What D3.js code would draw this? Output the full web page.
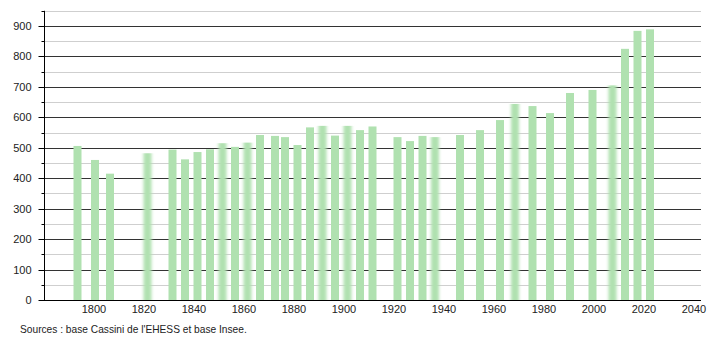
<!DOCTYPE html>
<html>
<head>
<meta charset="utf-8">
<script src="https://cdn.jsdelivr.net/npm/d3@7"></script>
<style>
  body { margin: 0; background: #fff; }
  svg { display: block; font-family: "Liberation Sans", Arial, sans-serif; }
</style>
</head>
<body>
<div id="chart"></div>
<script>
const years = [1793, 1800, 1806, 1821, 1831, 1836, 1841, 1846, 1851, 1856, 1861, 1866,
  1872, 1876, 1881, 1886, 1891, 1896, 1901, 1906, 1911, 1921, 1926, 1931, 1936,
  1946, 1954, 1962, 1968, 1975, 1982, 1990, 1999, 2007, 2012, 2017, 2022];
const population = [506, 460, 415, 482, 494, 462, 486, 495, 515, 503, 517, 542,
  539, 535, 509, 567, 572, 540, 572, 558, 570, 535, 522, 539, 535,
  542, 558, 591, 644, 637, 614, 680, 690, 705, 825, 884, 889];
const xTicks = [1800, 1820, 1840, 1860, 1880, 1900, 1920, 1940, 1960, 1980, 2000, 2020, 2040];
const yTicks = [0, 100, 200, 300, 400, 500, 600, 700, 800, 900];
const yMinor = [50, 150, 250, 350, 450, 550, 650, 750, 850, 950];
// bars that look smeared in the original picture
const fuzzyYears = [1821, 1851, 1861, 1891, 1901, 1936, 1968, 2007];
const source = "Sources : base Cassini de l'EHESS et base Insee.";

function drawChart(selector) {
  const W = 710, H = 340;
  const left = 44, right = 701, bottom = 300;

  const svg = d3.select(selector).append("svg")
    .attr("width", W).attr("height", H);

  const defs = svg.append("defs");
  defs.append("filter").attr("id", "smear")
    .attr("x", "-50%").attr("width", "200%")
    .append("feGaussianBlur").attr("stdDeviation", "1.6 0");

  const x = d3.scaleLinear().domain([1780, 2040]).range([left, 694]);
  const y = d3.scaleLinear().domain([0, 950]).range([bottom, bottom - 950 * 0.30444]);

  // grid
  svg.append("g").selectAll("line").data(yMinor).enter().append("line")
    .attr("x1", left).attr("x2", right)
    .attr("y1", d => Math.round(y(d)) + 0.5).attr("y2", d => Math.round(y(d)) + 0.5)
    .attr("stroke", "#cfcfcf");
  svg.append("g").selectAll("line").data(yTicks.slice(1)).enter().append("line")
    .attr("x1", left).attr("x2", right)
    .attr("y1", d => Math.round(y(d)) + 0.5).attr("y2", d => Math.round(y(d)) + 0.5)
    .attr("stroke", "#333");

  // bars
  svg.append("g").selectAll("rect").data(years).enter().append("rect")
    .attr("x", d => x(d) - 3)
    .attr("width", 8)
    .attr("y", (d, i) => y(population[i]))
    .attr("height", (d, i) => bottom - y(population[i]))
    .attr("fill", "#b0e1b0")
    .attr("filter", d => fuzzyYears.includes(d) ? "url(#smear)" : null);

  // y axis
  const yAxis = svg.append("g").attr("transform", "translate(" + (left + 0.5) + ",0)");
  yAxis.append("line").attr("y1", y(950)).attr("y2", bottom).attr("stroke", "#000");
  yAxis.selectAll(".maj").data(yTicks).enter().append("line")
    .attr("x1", -6).attr("x2", 0)
    .attr("y1", d => Math.round(y(d)) + 0.5).attr("y2", d => Math.round(y(d)) + 0.5)
    .attr("stroke", "#000");
  yAxis.selectAll(".min").data(yMinor).enter().append("line")
    .attr("x1", -3).attr("x2", 0)
    .attr("y1", d => Math.round(y(d)) + 0.5).attr("y2", d => Math.round(y(d)) + 0.5)
    .attr("stroke", "#000");
  yAxis.selectAll("text").data(yTicks).enter().append("text")
    .attr("x", -13).attr("y", d => y(d) + 4)
    .attr("text-anchor", "end")
    .attr("font-size", 11).attr("fill", "#222")
    .text(d => d);

  // x axis
  svg.append("line")
    .attr("x1", left).attr("x2", right)
    .attr("y1", bottom + 0.5).attr("y2", bottom + 0.5)
    .attr("stroke", "#000");
  svg.append("g").selectAll("text").data(xTicks).enter().append("text")
    .attr("x", d => x(d))
    .attr("y", 313)
    .attr("text-anchor", "middle")
    .attr("font-size", 11).attr("fill", "#222")
    .text(d => d);

  svg.append("text")
    .attr("x", 20).attr("y", 333)
    .attr("font-size", 10.2).attr("fill", "#222")
    .text(source);
}

window.onload = () => {
  drawChart("#chart");
};
</script>
</body>
</html>
